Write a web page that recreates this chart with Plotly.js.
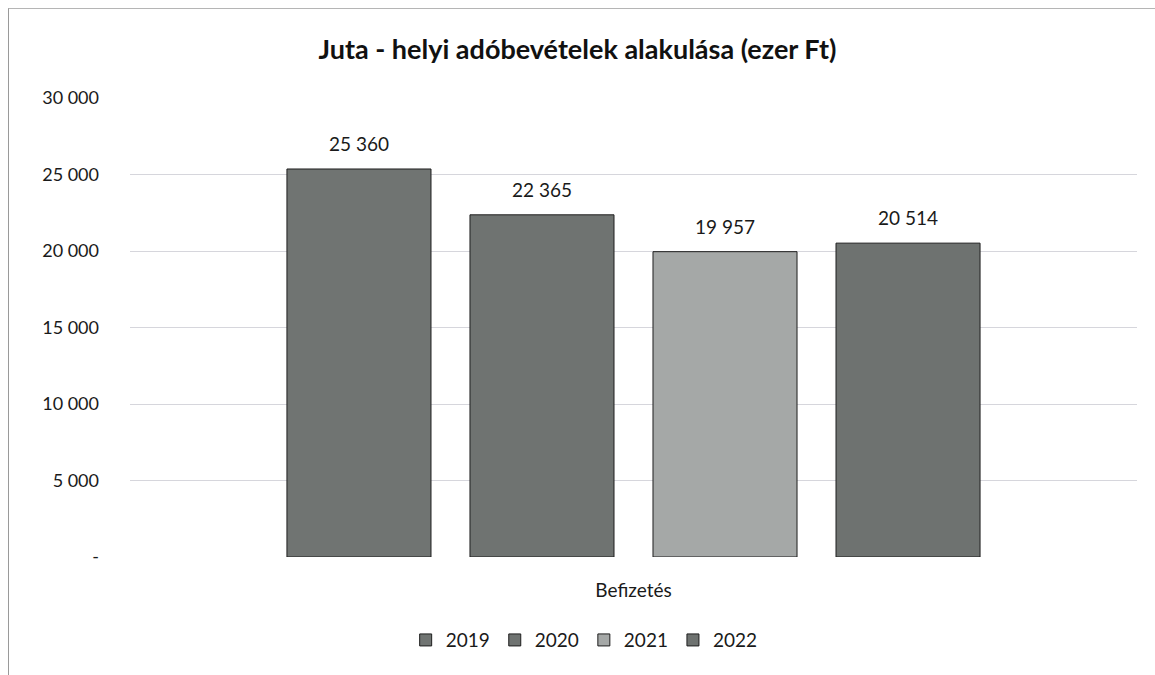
<!DOCTYPE html>
<html>
<head>
<meta charset="utf-8">
<script src="https://cdn.plot.ly/plotly-3.0.1.min.js"></script>
<style>
html,body{margin:0;padding:0;background:#fff;}
#frame{position:absolute;left:8px;top:8px;width:1200px;height:700px;border-left:1px solid #9a9a9a;border-top:1px solid #b5b5b5;pointer-events:none;}
#chart{width:1155px;height:675px;}
</style>
</head>
<body>
<div id="chart"></div>
<div id="frame"></div>
<script>
const categories = ["Befizetés"];
const years = ["2019", "2020", "2021", "2022"];
const values2019 = [25360];
const values2020 = [22365];
const values2021 = [19957];
const values2022 = [20514];
const yTickVals = [0, 5000, 10000, 15000, 20000, 25000, 30000];
const yTickText = ["-", "5 000", "10 000", "15 000", "20 000", "25 000", "30 000"];
const colors = ["#707472", "#6f7371", "#a5a8a7", "#6e7270"];

const seriesValues = [values2019, values2020, values2021, values2022];
const font = "Lato, 'Noto Sans', sans-serif";

const traces = years.map((yr, i) => ({
  type: "bar",
  name: yr,
  x: categories,
  y: seriesValues[i],
  marker: {color: colors[i], line: {color: "#1e1e1e", width: 1}},
  texttemplate: "<span style='font-size:19px'>%{y:,}</span><br> ",
  textposition: "outside",
  cliponaxis: false,
  textfont: {family: font, size: 10, color: "#1a1a1a"},
  hoverinfo: "skip"
}));

const layout = {
  width: 1155, height: 675,
  margin: {l: 130, r: 18, t: 98, b: 118},
  paper_bgcolor: "#fff", plot_bgcolor: "#fff",
  separators: ", ",
  barmode: "group",
  bargap: 0.273,
  bargroupgap: 0.213,
  title: {text: "<b>Juta - helyi adóbevételek alakulása (ezer Ft)</b>", x: 0.5, xanchor: "center", y: 0.926, yanchor: "middle",
          font: {family: font, size: 27, color: "#111"}},
  xaxis: {type: "category", showgrid: false, zeroline: false, showline: false,
          tickfont: {family: font, size: 19, color: "#1a1a1a"}, ticks: "", ticklabelstandoff: 20},
  yaxis: {range: [0, 30000], tickvals: yTickVals, ticktext: yTickText, showgrid: true, gridcolor: "#d6d6dc", gridwidth: 1,
          zeroline: false, showline: false, ticks: "", tickfont: {family: font, size: 18, color: "#1a1a1a"}, ticklabelstandoff: 30},
  showlegend: true,
  legend: {orientation: "h", x: 0.451, xanchor: "center", y: -0.181, yanchor: "middle",
           font: {family: font, size: 19, color: "#1a1a1a"}, itemwidth: 30, traceorder: "normal"}
};

Plotly.newPlot("chart", traces, layout, {displayModeBar: false, staticPlot: true});
</script>
</body>
</html>
